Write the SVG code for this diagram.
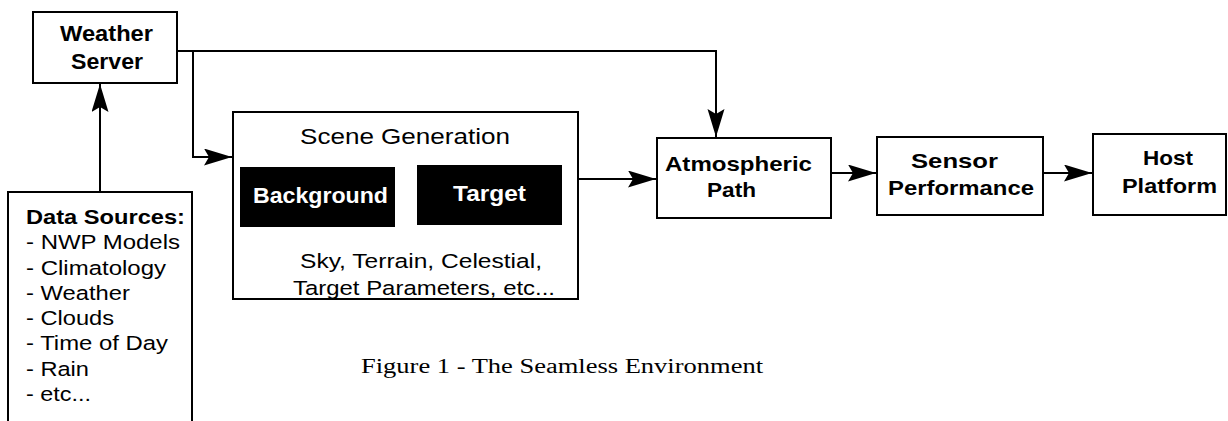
<svg xmlns="http://www.w3.org/2000/svg" width="1228" height="421" viewBox="0 0 1228 421">
<defs>
<marker id="arr" markerUnits="userSpaceOnUse" markerWidth="30" markerHeight="20" refX="28" refY="8.5" orient="auto">
<path d="M0,0 L28,8.5 L0,17 L5,8.5 z" fill="#000"/>
</marker>
<style>
.box{fill:#fff;stroke:#000;stroke-width:2}
.blk{fill:#000;stroke:none}
.c{fill:none;stroke:#000;stroke-width:2}
.s{font-family:"Liberation Sans",Arial,sans-serif;fill:#000}
.b{font-weight:bold}
.w{fill:#fff}
.cap{font-family:"Liberation Serif","Times New Roman",serif;font-size:20px;fill:#000}
</style>
</defs>
<rect width="1228" height="421" fill="#fff"/>
<g id="connectors">
<path class="c" d="M100,192 V84" marker-end="url(#arr)"/>
<path class="c" d="M177,51 H716 V137" marker-end="url(#arr)"/>
<path class="c" d="M193,51 V157 H232" marker-end="url(#arr)"/>
<path class="c" d="M578,179 H656" marker-end="url(#arr)"/>
<path class="c" d="M831,173 H876" marker-end="url(#arr)"/>
<path class="c" d="M1043,173 H1092" marker-end="url(#arr)"/>
</g>
<g id="weather-server">
<rect class="box" x="33" y="12" width="144" height="71"/>
<text class="s b" x="60" y="41" font-size="22" textLength="93" lengthAdjust="spacingAndGlyphs">Weather</text>
<text class="s b" x="71" y="69" font-size="22" textLength="72" lengthAdjust="spacingAndGlyphs">Server</text>
</g>
<g id="data-sources">
<rect class="box" x="8" y="192" width="184" height="260"/>
<text class="s b" x="26" y="224" font-size="20.5" textLength="159" lengthAdjust="spacingAndGlyphs">Data Sources:</text>
<text class="s" x="26" y="249" font-size="20.5" textLength="154" lengthAdjust="spacingAndGlyphs">- NWP Models</text>
<text class="s" x="26" y="274.5" font-size="20.5" textLength="140" lengthAdjust="spacingAndGlyphs">- Climatology</text>
<text class="s" x="26" y="300" font-size="20.5" textLength="104" lengthAdjust="spacingAndGlyphs">- Weather</text>
<text class="s" x="26" y="325" font-size="20.5" textLength="88" lengthAdjust="spacingAndGlyphs">- Clouds</text>
<text class="s" x="26" y="350" font-size="20.5" textLength="142" lengthAdjust="spacingAndGlyphs">- Time of Day</text>
<text class="s" x="26" y="375.5" font-size="20.5" textLength="63" lengthAdjust="spacingAndGlyphs">- Rain</text>
<text class="s" x="26" y="400.5" font-size="20.5" textLength="65" lengthAdjust="spacingAndGlyphs">- etc...</text>
</g>
<g id="scene-generation">
<rect class="box" x="233" y="112" width="345" height="187"/>
<text class="s" x="300" y="144" font-size="22" textLength="210" lengthAdjust="spacingAndGlyphs">Scene Generation</text>
<text class="s" x="300" y="268" font-size="20.5" textLength="242" lengthAdjust="spacingAndGlyphs">Sky, Terrain, Celestial,</text>
<text class="s" x="293" y="295" font-size="20.5" textLength="262" lengthAdjust="spacingAndGlyphs">Target Parameters, etc...</text>
</g>
<g id="background">
<rect class="blk" x="240" y="167" width="155" height="60"/>
<text class="s b w" x="253" y="203" font-size="22" textLength="135" lengthAdjust="spacingAndGlyphs">Background</text>
</g>
<g id="target">
<rect class="blk" x="417" y="165" width="145" height="60"/>
<text class="s b w" x="453" y="201" font-size="22" textLength="73" lengthAdjust="spacingAndGlyphs">Target</text>
</g>
<g id="atmospheric-path">
<rect class="box" x="657" y="138" width="174" height="80"/>
<text class="s b" x="665" y="171" font-size="21" textLength="147" lengthAdjust="spacingAndGlyphs">Atmospheric</text>
<text class="s b" x="707" y="197" font-size="21" textLength="49" lengthAdjust="spacingAndGlyphs">Path</text>
</g>
<g id="sensor-performance">
<rect class="box" x="877" y="137" width="166" height="78"/>
<text class="s b" x="911" y="168" font-size="21" textLength="87" lengthAdjust="spacingAndGlyphs">Sensor</text>
<text class="s b" x="888" y="195" font-size="21" textLength="146" lengthAdjust="spacingAndGlyphs">Performance</text>
</g>
<g id="host-platform">
<rect class="box" x="1093" y="134" width="133" height="81"/>
<text class="s b" x="1143" y="165" font-size="21" textLength="50" lengthAdjust="spacingAndGlyphs">Host</text>
<text class="s b" x="1122" y="193" font-size="21" textLength="95" lengthAdjust="spacingAndGlyphs">Platform</text>
</g>
<text class="cap" x="361" y="373" textLength="402" lengthAdjust="spacingAndGlyphs">Figure 1 - The Seamless Environment</text>
</svg>
